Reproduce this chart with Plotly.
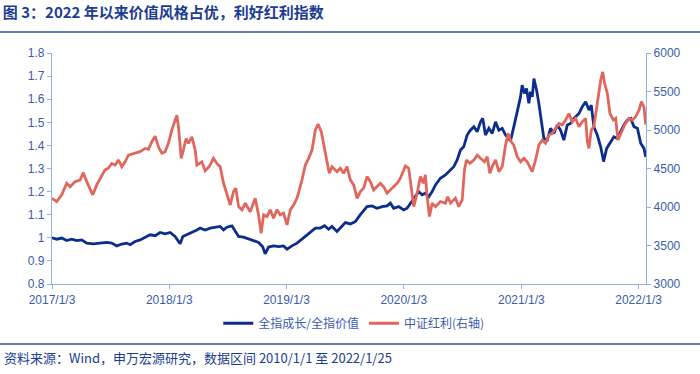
import pandas as pd
import plotly.graph_objects as go

# ---- data ----
# time expressed in years counted from 2017/1/3 (0.0 = 2017/1/3)
blue_t = [0.000,0.040,0.083,0.125,0.168,0.211,0.253,0.296,0.352,0.410,
          0.467,0.509,0.552,0.595,0.637,0.666,0.708,0.751,0.794,0.836,
          0.879,0.921,0.964,1.007,1.049,1.078,1.092,1.115,1.149,1.192,
          1.235,1.263,1.305,1.348,1.391,1.433,1.462,1.491,1.533,1.561,
          1.590,1.632,1.675,1.717,1.760,1.794,1.817,1.846,1.888,1.931,
          1.973,2.003,2.045,2.088,2.130,2.159,2.201,2.244,2.287,2.323,
          2.357,2.386,2.429,2.472,2.500,2.543,2.585,2.628,2.665,2.685,
          2.728,2.770,2.813,2.856,2.884,2.912,2.955,2.997,3.026,3.055,
          3.097,3.125,3.154,3.182,3.211,3.240,3.268,3.310,3.353,3.396,
          3.424,3.453,3.481,3.509,3.538,3.566,3.595,3.624,3.652,3.671,
          3.694,3.723,3.752,3.780,3.808,3.837,3.865,3.891,3.908,3.936,
          3.965,3.993,4.007,4.027,4.044,4.064,4.078,4.093,4.107,4.130,
          4.149,4.170,4.192,4.221,4.249,4.277,4.306,4.334,4.362,4.391,
          4.420,4.448,4.491,4.519,4.548,4.576,4.596,4.618,4.647,4.676,
          4.701,4.727,4.761,4.789,4.818,4.846,4.874,4.903,4.932,4.960,
          4.989,5.017,5.045,5.060]
growth_value_ratio = [
          1.000,0.994,0.999,0.988,0.994,0.988,0.991,0.977,0.974,0.977,
          0.980,0.977,0.965,0.973,0.977,0.970,0.984,0.991,1.003,1.013,
          1.009,1.023,1.017,1.023,1.006,0.984,0.974,1.006,1.013,1.023,
          1.034,1.042,1.034,1.042,1.046,1.049,1.034,1.046,1.052,1.027,
          1.006,1.003,0.994,0.988,0.980,0.962,0.931,0.960,0.965,0.962,
          0.965,0.951,0.965,0.977,0.994,1.006,1.020,1.042,1.042,1.052,
          1.037,1.049,1.027,1.049,1.066,1.060,1.070,1.100,1.125,1.135,
          1.138,1.128,1.135,1.138,1.150,1.128,1.135,1.121,1.128,1.150,
          1.178,1.200,1.186,1.193,1.178,1.200,1.229,1.258,1.272,1.294,
          1.308,1.337,1.380,1.394,1.445,1.466,1.481,1.459,1.502,1.517,
          1.445,1.474,1.452,1.502,1.466,1.474,1.445,1.430,1.420,1.481,
          1.553,1.610,1.661,1.625,1.646,1.582,1.632,1.610,1.689,1.639,
          1.582,1.495,1.430,1.423,1.474,1.452,1.488,1.466,1.423,1.488,
          1.495,1.517,1.538,1.567,1.589,1.553,1.574,1.481,1.445,1.394,
          1.330,1.387,1.416,1.437,1.430,1.459,1.488,1.510,1.517,1.481,
          1.474,1.409,1.387,1.350]

red_t = [0.000,0.040,0.083,0.125,0.154,0.196,0.239,0.267,0.296,0.347,
         0.381,0.424,0.452,0.480,0.509,0.538,0.566,0.595,0.623,0.651,
         0.708,0.751,0.794,0.822,0.851,0.879,0.907,0.936,0.964,0.992,
         1.021,1.041,1.064,1.078,1.101,1.120,1.143,1.163,1.192,1.220,
         1.235,1.277,1.305,1.342,1.376,1.405,1.433,1.462,1.491,1.519,
         1.547,1.567,1.590,1.619,1.647,1.689,1.732,1.760,1.783,1.803,
         1.832,1.860,1.888,1.917,1.945,1.973,2.003,2.031,2.059,2.088,
         2.130,2.159,2.187,2.216,2.244,2.267,2.295,2.315,2.344,2.363,
         2.386,2.429,2.457,2.485,2.514,2.543,2.571,2.600,2.628,2.656,
         2.685,2.713,2.741,2.770,2.798,2.827,2.856,2.898,2.941,2.969,
         3.012,3.040,3.060,3.083,3.112,3.140,3.163,3.182,3.197,3.217,
         3.240,3.268,3.310,3.353,3.373,3.396,3.438,3.467,3.496,3.515,
         3.532,3.560,3.595,3.624,3.652,3.686,3.709,3.731,3.752,3.780,
         3.808,3.837,3.865,3.888,3.908,3.936,3.965,3.993,4.021,4.050,
         4.078,4.093,4.121,4.149,4.178,4.206,4.234,4.263,4.292,4.320,
         4.349,4.377,4.405,4.434,4.462,4.491,4.519,4.548,4.562,4.576,
         4.596,4.618,4.647,4.676,4.693,4.710,4.733,4.755,4.784,4.804,
         4.823,4.846,4.880,4.917,4.946,4.974,5.003,5.023,5.045,5.060]
csi_dividend = [
         4113,4071,4158,4308,4263,4329,4350,4446,4329,4158,
         4287,4416,4482,4503,4566,4545,4611,4524,4587,4674,
         4698,4719,4761,4749,4848,4920,4782,4698,4719,4827,
         4998,5085,5193,5043,4632,4740,4890,4827,4911,4740,
         4545,4587,4470,4530,4632,4566,4524,4308,4179,4026,
         4200,4245,4005,3963,4050,3939,4113,3897,3660,3897,
         3876,3963,3855,3963,3897,3921,3768,3963,4026,4113,
         4350,4545,4632,4740,4998,5076,4977,4827,4611,4437,
         4524,4458,4503,4437,4524,4350,4287,4113,4200,4245,
         4395,4329,4221,4263,4308,4263,4179,4245,4308,4374,
         4533,4503,4263,4005,4179,4395,4308,4416,4134,3876,
         4050,4005,4071,4050,4134,4050,4113,4005,4092,4482,
         4611,4566,4611,4674,4632,4587,4653,4437,4524,4611,
         4458,4524,4803,4956,4860,4800,4653,4587,4632,4587,
         4503,4458,4611,4803,4869,4827,4935,4956,5022,5085,
         5064,5130,5214,5106,5151,5043,5106,5151,4848,4761,
         4998,5043,5346,5646,5754,5604,5475,5214,5130,5151,
         4869,4956,5064,5151,5130,5172,5259,5367,5301,5070]

x_tick_dates = ["2017-01-03", "2018-01-03", "2019-01-03", "2020-01-03", "2021-01-03", "2022-01-03"]
x_tick_labels = ["2017/1/3", "2018/1/3", "2019/1/3", "2020/1/3", "2021/1/3", "2022/1/3"]
y_left_ticks = [0.8, 0.9, 1.0, 1.1, 1.2, 1.3, 1.4, 1.5, 1.6, 1.7, 1.8]
y_left_labels = ["0.8", "0.9", "1", "1.1", "1.2", "1.3", "1.4", "1.5", "1.6", "1.7", "1.8"]
y_right_ticks = [3000, 3500, 4000, 4500, 5000, 5500, 6000]

series_names = ["全指成长/全指价值", "中证红利(右轴)"]
title_text = "图 3：2022 年以来价值风格占优，利好红利指数"
source_text = "资料来源：Wind，申万宏源研究，数据区间 2010/1/1 至 2022/1/25"

# ---- build ----
base = pd.Timestamp("2017-01-03")
def to_dates(ts):
    return [base + pd.Timedelta(days=t * 365.25) for t in ts]

BLUE = "#0d2d8c"
RED = "#e0675e"
AXIS = "#8fb3e0"
TICK = "#3b5cae"
TEXT = "#1c3d92"
CJK = "Noto Sans CJK SC"
LAT = "Liberation Sans, Arial"

fig = go.Figure()
fig.add_trace(go.Scatter(x=to_dates(blue_t), y=growth_value_ratio, name=series_names[0],
                         mode="lines", line=dict(color=BLUE, width=2.8), yaxis="y"))
fig.add_trace(go.Scatter(x=to_dates(red_t), y=csi_dividend, name=series_names[1],
                         mode="lines", line=dict(color=RED, width=2.8), yaxis="y2"))

axis_common = dict(showgrid=False, zeroline=False, showline=True, linecolor=AXIS,
                   linewidth=1.3, ticks="outside", ticklen=4, tickcolor=AXIS,
                   tickfont=dict(family=LAT, size=12, color=TICK))

fig.update_layout(
    width=700, height=374,
    margin=dict(l=52, r=54, t=53, b=90),
    paper_bgcolor="white", plot_bgcolor="white",
    showlegend=True,
    legend=dict(orientation="h", x=0.508, xanchor="center", y=-0.17, yanchor="middle",
                font=dict(family=CJK, size=12, color=TICK), itemwidth=30,
                bgcolor="rgba(0,0,0,0)"),
    xaxis=dict(type="date", range=["2017-01-03", "2022-01-26"],
               tickvals=x_tick_dates, ticktext=x_tick_labels, **axis_common),
    yaxis=dict(range=[0.8, 1.8], tickvals=y_left_ticks, ticktext=y_left_labels, **axis_common),
    yaxis2=dict(range=[3000, 6000], tickvals=y_right_ticks, overlaying="y", side="right",
                **axis_common),
    title=dict(text="<b>" + title_text + "</b>", xref="container", yref="container",
               x=0.004, xanchor="left", y=1 - 13 / 374, yanchor="middle",
               font=dict(family=CJK, size=15, color=TEXT)),
)

fig.add_shape(type="line", xref="paper", yref="paper",
              x0=-52 / 594, x1=648 / 594, y0=(284 - 32) / 231, y1=(284 - 32) / 231,
              line=dict(color="#2f4f9e", width=1.5))
fig.add_shape(type="line", xref="paper", yref="paper",
              x0=-52 / 594, x1=648 / 594, y0=(284 - 344) / 231, y1=(284 - 344) / 231,
              line=dict(color="#2f4f9e", width=1.5))
fig.add_annotation(text=source_text, xref="paper", yref="paper",
                   x=-50 / 594, xanchor="left", y=(284 - 357) / 231, yanchor="middle",
                   showarrow=False, font=dict(family=CJK, size=13, color=TEXT))

fig.write_html("out.html", config={"displayModeBar": False},
               post_script="document.body.style.margin='0';")
